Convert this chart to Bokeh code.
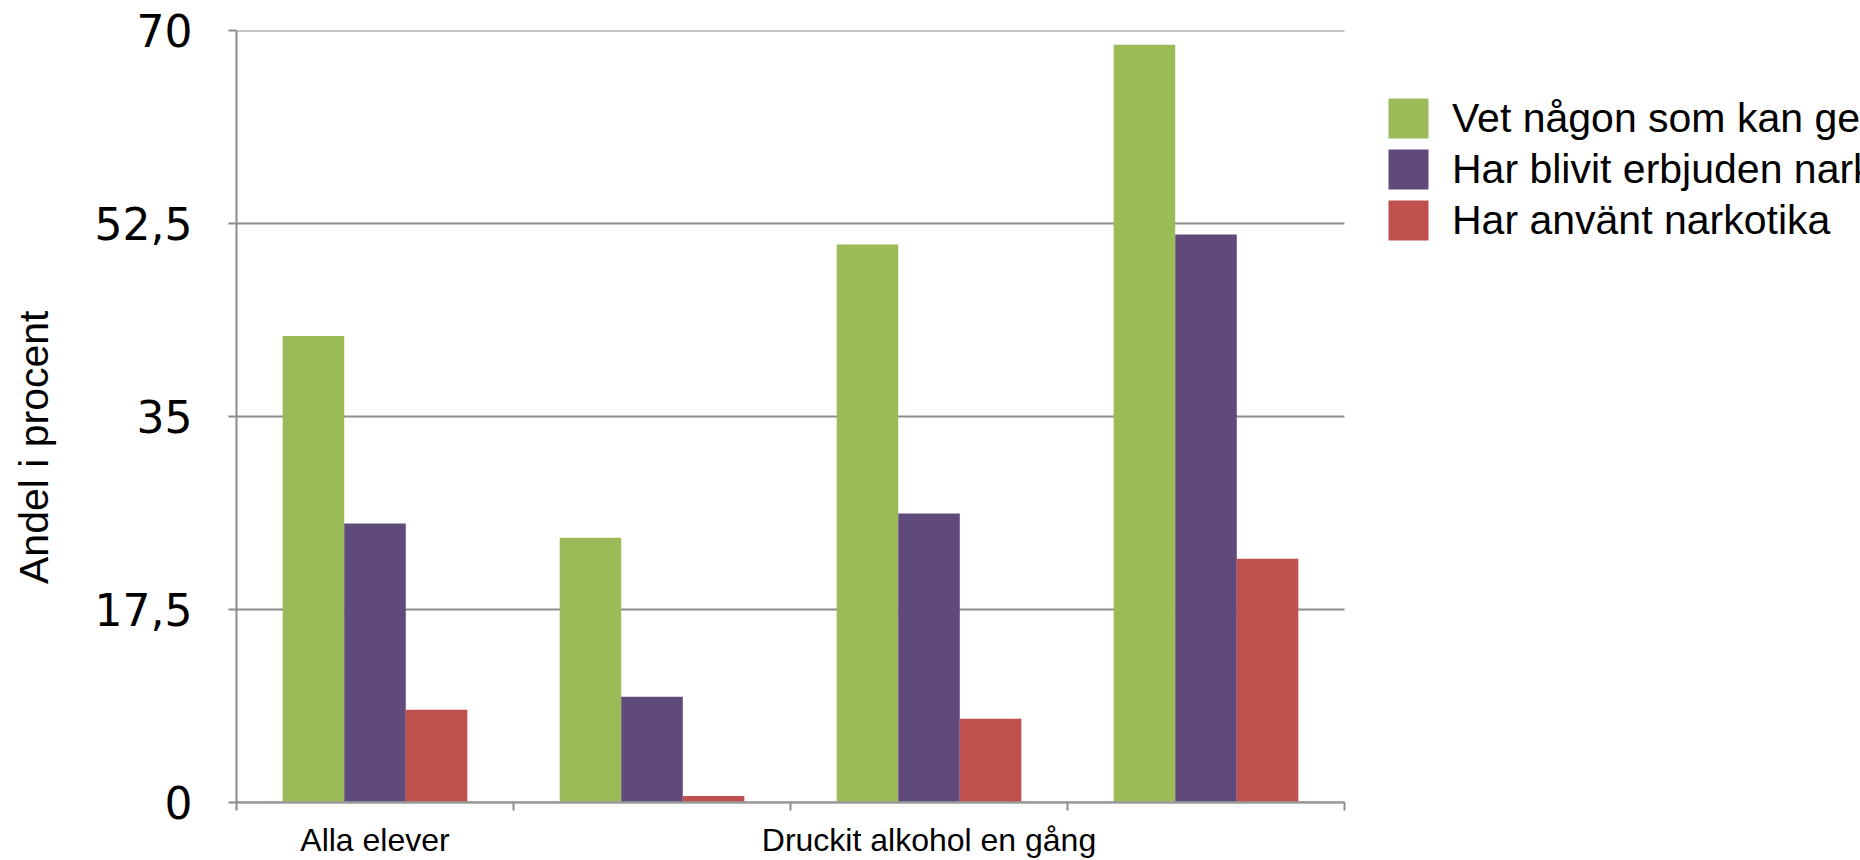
from bokeh.plotting import figure
from bokeh.models import (Range1d, FixedTicker, Legend, LegendItem, ColumnDataSource, LinearAxis)
from bokeh.embed import file_html
from bokeh.resources import INLINE

# ---- data ----
group_labels = ["Alla elever", "", "Druckit alkohol en gång", ""]
series_names = ["Vet någon som kan ge narkotika",
                "Har blivit erbjuden narkotika",
                "Har använt narkotika"]
vet_nagon = [42.3, 24.0, 50.6, 68.7]
erbjuden = [25.3, 9.6, 26.2, 51.5]
anvant = [8.4, 0.6, 7.6, 22.1]
y_ticks = [0, 17.5, 35, 52.5, 70]
y_tick_labels = ["0", "17,5", "35", "52,5", "70"]
y_title = "Andel i procent"
colors = ["#9BBB59", "#604A7B", "#C0504D"]

W, H = 1860, 860
LEFT, TOP, BOTTOM = 236, 30, 57
DATA_W = 1108                      # pixel width of the bar area
FRAME_W = W - LEFT                 # frame runs to the right edge (legend lives there)
n = len(group_labels)
x_start = -0.5
x_end_data = n - 0.5
x_end = x_start + (x_end_data - x_start) * FRAME_W / DATA_W

p = figure(width=W, height=H, output_backend="svg", toolbar_location=None,
           x_range=Range1d(x_start, x_end), y_range=Range1d(0, 70),
           min_border_left=LEFT, min_border_top=TOP, min_border_bottom=BOTTOM,
           min_border_right=0)
p.outline_line_color = None
p.background_fill_color = "white"
p.border_fill_color = "white"

# horizontal gridlines over the bar area only
p.xgrid.grid_line_color = None
p.ygrid.grid_line_color = None
p.segment(x0=[x_start] * len(y_ticks), x1=[x_end_data] * len(y_ticks),
          y0=y_ticks, y1=y_ticks, line_color="#8c8c8c", line_width=2)

xs = list(range(n))
bw = 1 / 4.5
renderers = []
for k, (vals, col) in enumerate(zip([vet_nagon, erbjuden, anvant], colors)):
    src = ColumnDataSource(dict(x=[x + (k - 1) * bw for x in xs], top=vals))
    r = p.vbar(x="x", top="top", width=bw, bottom=0, source=src,
               fill_color=col, line_color=None)
    renderers.append(r)

# y axis
p.yaxis.ticker = FixedTicker(ticks=y_ticks)
p.yaxis.major_label_overrides = {t: l for t, l in zip(y_ticks, y_tick_labels)}
p.yaxis.major_label_text_font = "DejaVu Sans"
p.yaxis.major_label_text_font_size = "44px"
p.yaxis.major_label_text_color = "black"
p.yaxis.major_label_standoff = 36
p.yaxis.major_tick_out = 8
p.yaxis.major_tick_in = 0
p.yaxis.minor_tick_out = 0
p.yaxis.minor_tick_in = 0
p.yaxis.axis_line_color = "#8c8c8c"
p.yaxis.axis_line_width = 2
p.yaxis.major_tick_line_color = "#8c8c8c"
p.yaxis.major_tick_line_width = 2

# axis title, nudged a little below the middle of the value axis
title_axis = LinearAxis(ticker=FixedTicker(ticks=[]),
                        axis_line_color=None, major_tick_line_color=None,
                        minor_tick_line_color=None, major_label_text_alpha=0,
                        axis_label=y_title + "\u2002" * 3, axis_label_standoff=35,
                        axis_label_text_font="Liberation Sans",
                        axis_label_text_font_size="41px",
                        axis_label_text_font_style="normal",
                        axis_label_text_color="black")
p.add_layout(title_axis, "left")

# x axis
label_ticks = [i for i, l in enumerate(group_labels) if l]
p.xaxis.ticker = FixedTicker(ticks=label_ticks,
                             minor_ticks=[i - 0.5 for i in range(n + 1)])
p.xaxis.bounds = (x_start, x_end_data)
p.xaxis.major_label_overrides = {i: group_labels[i] for i in label_ticks}
p.xaxis.major_label_text_font = "Liberation Sans"
p.xaxis.major_label_text_font_size = "32px"
p.xaxis.major_label_text_color = "black"
p.xaxis.major_tick_out = 0
p.xaxis.major_tick_in = 0
p.xaxis.minor_tick_out = 8
p.xaxis.minor_tick_in = 0
p.xaxis.minor_tick_line_color = "#8c8c8c"
p.xaxis.minor_tick_line_width = 2
p.xaxis.major_label_standoff = 11
p.xaxis.axis_line_color = "#9a9a9a"
p.xaxis.axis_line_width = 2.5

legend = Legend(items=[LegendItem(label=nm, renderers=[r]) for nm, r in zip(series_names, renderers)],
                location=(1147, 557), orientation="vertical",
                glyph_width=50, glyph_height=50, label_height=50,
                label_standoff=19, spacing=1, padding=0, margin=0,
                border_line_color=None, background_fill_alpha=0,
                label_text_font="Liberation Sans", label_text_font_size="41px",
                label_text_color="black")
p.add_layout(legend, "center")

open("out.html", "w").write(file_html(p, INLINE))
